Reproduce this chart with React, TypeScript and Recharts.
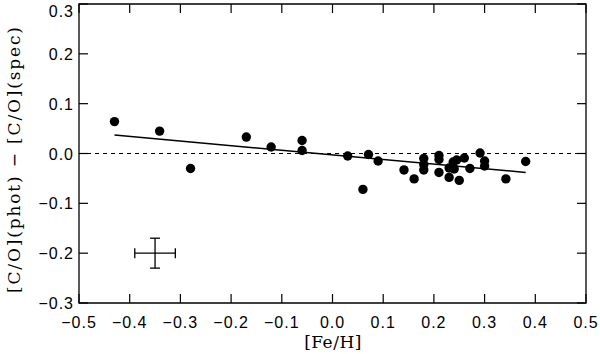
import React from 'react';
import {
  ScatterChart,
  Scatter,
  XAxis,
  YAxis,
  ReferenceLine,
  ReferenceArea,
  ErrorBar,
} from 'recharts';

// [Fe/H] values
const feH = [
  -0.43, -0.341, -0.28, -0.17, -0.121, -0.06, -0.06, 0.03, 0.06, 0.071, 0.09,
  0.141, 0.161, 0.18, 0.18, 0.18, 0.21, 0.21, 0.21, 0.23, 0.23, 0.238, 0.24,
  0.245, 0.25, 0.26, 0.271, 0.291, 0.3, 0.3, 0.342, 0.381,
];
// [C/O](phot) - [C/O](spec)
const dCO = [
  0.064, 0.045, -0.03, 0.033, 0.013, 0.026, 0.006, -0.005, -0.072, -0.002,
  -0.015, -0.033, -0.051, -0.01, -0.022, -0.033, -0.004, -0.012, -0.038,
  -0.029, -0.048, -0.017, -0.031, -0.013, -0.054, -0.009, -0.03, 0.001,
  -0.015, -0.025, -0.051, -0.016,
];
// fitted line endpoints
const fitX = [-0.43, 0.381];
const fitY = [0.037, -0.038];
// typical error cross
const errX = [-0.35];
const errY = [-0.2];
const errXSize = [0.04];
const errYSize = [0.03];

const xTicks = [-0.5, -0.4, -0.3, -0.2, -0.1, 0, 0.1, 0.2, 0.3, 0.4, 0.5];
const yTicks = [-0.3, -0.2, -0.1, 0, 0.1, 0.2, 0.3];

const points = feH.map((x, i) => ({ x, y: dCO[i] }));
const errData = errX.map((x, i) => ({ x, y: errY[i], ex: errXSize[i], ey: errYSize[i] }));

const W = 600;
const H = 354;
const MARGIN = { top: 4, right: 14, bottom: 21, left: 19 };
const PLOT_TOP = MARGIN.top;
const PLOT_RIGHT = W - MARGIN.right;

const fmt = (v: number) => {
  const r = Math.round(v * 10) / 10;
  return r < 0 ? '\u2212' + Math.abs(r).toFixed(1) : r.toFixed(1);
};

const TICK_LEN = 9;
const tickFont = { fontFamily: '"Liberation Sans", Arial, sans-serif', fontSize: 16, letterSpacing: 1 };

const BottomTick = (p: any) => (
  <g>
    <line x1={p.x} x2={p.x} y1={p.y} y2={p.y - TICK_LEN} stroke="#000" strokeWidth={1.2} />
    <line x1={p.x} x2={p.x} y1={PLOT_TOP} y2={PLOT_TOP + TICK_LEN} stroke="#000" strokeWidth={1.2} />
    <text x={p.x} y={p.y + 25} textAnchor="middle" fill="#000" style={tickFont}>
      {fmt(p.payload.value)}
    </text>
  </g>
);
const LeftTick = (p: any) => (
  <g>
    <line x1={p.x} x2={p.x + TICK_LEN} y1={p.y} y2={p.y} stroke="#000" strokeWidth={1.2} />
    <line x1={PLOT_RIGHT} x2={PLOT_RIGHT - TICK_LEN} y1={p.y} y2={p.y} stroke="#000" strokeWidth={1.2} />
    <text x={p.x - 5} y={Math.max(p.y, 11) + 6} textAnchor="end" fill="#000" style={tickFont}>
      {fmt(p.payload.value)}
    </text>
  </g>
);

const Dot = (p: any) => <circle cx={p.cx} cy={p.cy} r={4.7} fill="#000" />;
const NoShape = () => <g />;

const labelFont = { fontFamily: '"DejaVu Serif", serif', fontSize: 17 };

const XLabel = () => (
  <text x={333} y={348} textAnchor="middle" fill="#000" style={{ ...labelFont, letterSpacing: 0.5 }}>
    [Fe/H]
  </text>
);
const YLabel = () => (
  <text
    transform="translate(20,160) rotate(-90)"
    textAnchor="middle"
    fill="#000"
    style={labelFont}
    textLength={266}
    lengthAdjust="spacing"
  >
    {'[C/O](phot)  \u2212  [C/O](spec)'}
  </text>
);

export default function App() {
  return (
    <div style={{ position: 'absolute', left: 0, top: 0, background: '#fff' }}>
      <ScatterChart width={W} height={H} margin={MARGIN}>
        <XAxis
          type="number"
          dataKey="x"
          domain={[-0.5, 0.5]}
          ticks={xTicks}
          interval={0}
          allowDataOverflow
          height={30}
          tickSize={0}
          tickMargin={0}
          tickLine={false}
          axisLine={false}
          tick={<BottomTick />}
          label={{ content: () => <XLabel /> }}
        />
        <YAxis
          type="number"
          dataKey="y"
          domain={[-0.3, 0.3]}
          ticks={yTicks}
          interval={0}
          allowDataOverflow
          width={60}
          tickSize={0}
          tickMargin={0}
          tickLine={false}
          axisLine={false}
          tick={<LeftTick />}
          label={{ content: () => <YLabel /> }}
        />
        <ReferenceArea
          x1={-0.5}
          x2={0.5}
          y1={-0.3}
          y2={0.3}
          fill="none"
          fillOpacity={0}
          stroke="#000"
          strokeWidth={1.3}
          strokeOpacity={1}
        />
        <ReferenceLine y={0} stroke="#000" strokeWidth={1.2} strokeDasharray="4 4" />
        <ReferenceLine
          segment={[
            { x: fitX[0], y: fitY[0] },
            { x: fitX[1], y: fitY[1] },
          ]}
          stroke="#000"
          strokeWidth={1.5}
        />
        <Scatter data={points} shape={<Dot />} isAnimationActive={false} />
        <Scatter data={errData} shape={<NoShape />} isAnimationActive={false}>
          <ErrorBar dataKey="ey" direction="y" width={5} stroke="#000" strokeWidth={1.3} isAnimationActive={false} />
          <ErrorBar dataKey="ex" direction="x" width={5} stroke="#000" strokeWidth={1.3} isAnimationActive={false} />
        </Scatter>
      </ScatterChart>
    </div>
  );
}
